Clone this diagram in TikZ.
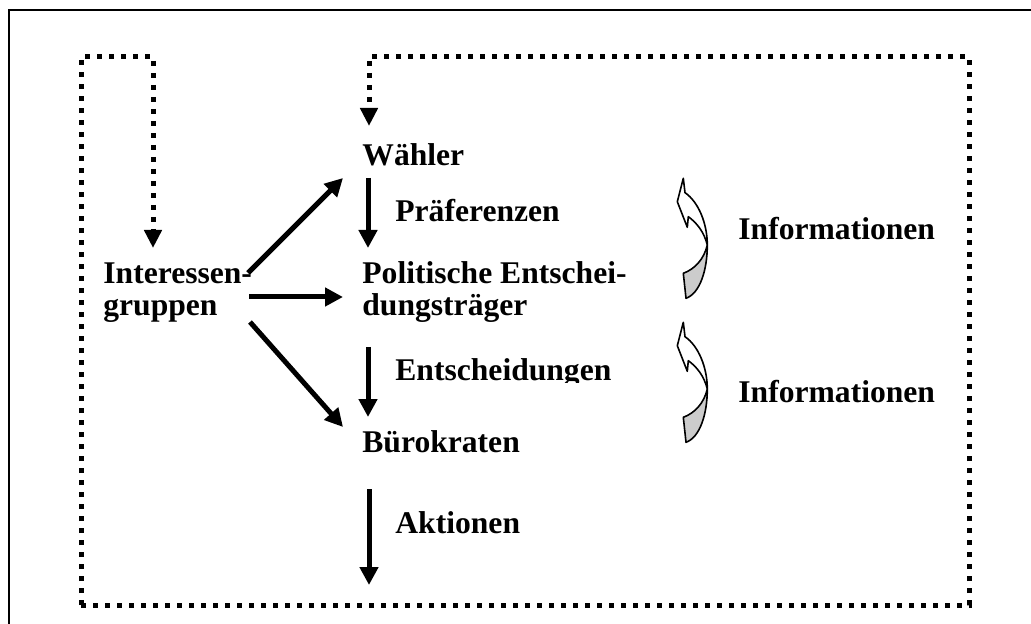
\documentclass[tikz,border=0pt]{standalone}
\usepackage{fontspec}
\setmainfont{Liberation Serif}
\usetikzlibrary{arrows.meta,calc}

\begin{document}
\begin{tikzpicture}[x=0.5pt,y=-0.5pt,
  lbl/.style={inner sep=0pt, anchor=base west, align=left,
    font=\fontsize{15.8}{16.2}\selectfont\bfseries},
  flow/.style={line width=2.5pt, -{Triangle[length=9pt,width=9pt]}},
  loopline/.style={line width=2.5pt, dash pattern=on 2.5pt off 3.5pt},
  looptip/.style={loopline, -{Triangle[length=9pt,width=8.5pt]}},
  frame/.style={line width=1pt},
  ribbon/.style={line width=0.8pt, line join=round},
  infoarrow/.pic={
    % shaded underside of the bent ribbon
    \draw[ribbon, fill=black!20]
      (43.3,103.3) .. controls (55,99) and (64,89) .. (67.3,75)
      .. controls (67.3,100) and (60,123.3) .. (46,128.3) -- cycle;
    % white front face with the arrow head
    \draw[ribbon, fill=white]
      (43.3,8.3) -- (37.3,31.7) -- (47.3,57.3) -- (48.3,46.7)
      .. controls (57,53) and (64,62) .. (67.3,75)
      .. controls (67.3,53.3) and (58.3,31.7) .. (45,22.7) -- cycle;
  }
]
\useasboundingbox (0,0) rectangle (1031,624);

% outer frame, running off the right and bottom edges
\begin{scope}
  \clip (0,0) rectangle (1031,624);
  \draw[frame] (9,10) rectangle (1050,650);
\end{scope}

% labels (two-line labels are anchored at the baseline of their last line)
\node[lbl] (w)  at (362,166) {Wähler};
\node[lbl] (pe) at (362,316) {Politische Entschei-\\dungsträger};
\node[lbl] (bu) at (362,452) {Bürokraten};
\node[lbl] (ig) at (103,316) {Interessen-\\gruppen};
\node[lbl] (pr) at (395,222) {Präferenzen};
\begin{scope}
  \clip (380,340) rectangle (640,383);
  \node[lbl] (en) at (395,380) {Entscheidungen};
\end{scope}
\node[lbl] (ak) at (395,533) {Aktionen};
\node[lbl] (i1) at (738,240) {Informationen};
\node[lbl] (i2) at (738,402) {Informationen};

% curved information arrows
\pic at (640,170) {infoarrow};
\pic at (640,314) {infoarrow};

% solid flow arrows
\draw[flow] ($(w.base west)+(6,12)$) -- ($(pe.base west)+(6,-68)$);
\draw[flow] ($(pe.base west)+(6,31)$) -- ($(bu.base west)+(6,-35)$);
\draw[flow] ($(bu.base west)+(7,37)$) -- ($(bu.base west)+(7,133)$);
\draw[flow] ($(ig.base west)+(145,-43)$) -- ($(w.base west)+(-19,12)$);
\draw[flow] ($(ig.base west)+(146,-19)$) -- ($(pe.base west)+(-19,-19)$);
\draw[flow] ($(ig.base west)+(147,6)$) -- ($(bu.base west)+(-19,-25)$);

% dotted feedback loops
\coordinate (bl) at (81,605);
\coordinate (tl) at (81,57);
\coordinate (tm) at (153,57);
\coordinate (br) at (969,605);
\coordinate (tr) at (969,57);
\coordinate (tw) at (369,57);
\draw[looptip] (bl) -- (tl) -- (tm) -- ($(ig.base west)+(50,-68)$);
\draw[looptip] (bl) -- (br) -- (tr) -- (tw) -- ($(w.base west)+(7,-40)$);
\end{tikzpicture}
\end{document}
